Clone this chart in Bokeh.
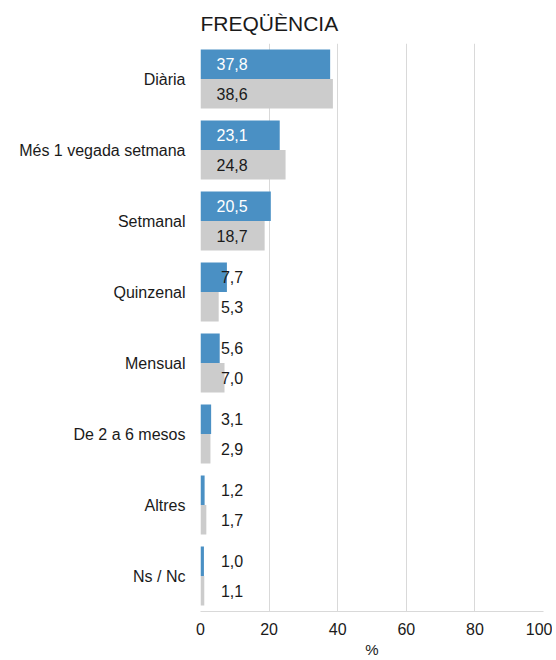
from bokeh.plotting import figure
from bokeh.models import ColumnDataSource, FactorRange, FixedTicker, Range1d
from bokeh.transform import dodge
from bokeh.embed import file_html
from bokeh.resources import INLINE
from bokeh.core.properties import value

categories = ["Diària", "Més 1 vegada setmana", "Setmanal", "Quinzenal",
              "Mensual", "De 2 a 6 mesos", "Altres", "Ns / Nc"]
series_a = [37.8, 23.1, 20.5, 7.7, 5.6, 3.1, 1.2, 1.0]
series_b = [38.6, 24.8, 18.7, 5.3, 7.0, 2.9, 1.7, 1.1]
x_ticks = [0, 20, 40, 60, 80, 100]
x_title = "%"

BLUE = "#4A90C4"
GREY = "#CCCCCC"
FONT = "Liberation Sans"
LABEL_X = 9.2

def fmt(v):
    return f"{v:.1f}".replace(".", ",")

src = ColumnDataSource(dict(
    cat=categories,
    a=series_a,
    b=series_b,
    a_lab=[fmt(v) for v in series_a],
    b_lab=[fmt(v) for v in series_b],
    a_col=["white" if v >= 20 else "#1a1a1a" for v in series_a],
    lx=[LABEL_X] * len(categories),
))

p = figure(width=552, height=660, output_backend="svg", toolbar_location=None,
           y_range=FactorRange(factors=list(reversed(categories))),
           x_range=Range1d(0, 100))
p.min_border_left = 200
p.min_border_right = 9
p.min_border_top = 43
p.min_border_bottom = 49
p.outline_line_color = None
p.background_fill_color = "white"

p.title.text = "FREQÜÈNCIA"
p.title.text_font = FONT
p.title.text_font_size = "21px"
p.title.text_font_style = "normal"
p.title.text_color = "#1a1a1a"
p.title.standoff = 18

p.hbar(y=dodge("cat", 0.2075, range=p.y_range), right="a", left=0, height=0.415,
       source=src, fill_color=BLUE, line_color=None)
p.hbar(y=dodge("cat", -0.2075, range=p.y_range), right="b", left=0, height=0.415,
       source=src, fill_color=GREY, line_color=None)

p.text(x="lx", y=dodge("cat", 0.2075, range=p.y_range), text="a_lab", source=src,
       text_align="center", text_baseline="middle", text_font=value(FONT),
       text_font_size="16px", text_color="a_col")
p.text(x="lx", y=dodge("cat", -0.2075, range=p.y_range), text="b_lab", source=src,
       text_align="center", text_baseline="middle", text_font=value(FONT),
       text_font_size="16px", text_color="#1a1a1a")

p.xgrid.grid_line_color = "#D9D9D9"
p.ygrid.grid_line_color = None
p.xaxis.ticker = FixedTicker(ticks=x_ticks)
p.xaxis.axis_line_color = "#D9D9D9"
p.xaxis.major_tick_line_color = None
p.xaxis.minor_tick_line_color = None
p.xaxis.major_label_text_font = FONT
p.xaxis.major_label_text_font_size = "16px"
p.xaxis.major_label_text_color = "#1a1a1a"
p.xaxis.major_label_standoff = 5
p.xaxis.axis_label = x_title
p.xaxis.axis_label_text_font = FONT
p.xaxis.axis_label_text_font_size = "15px"
p.xaxis.axis_label_text_font_style = "normal"
p.xaxis.axis_label_text_color = "#1a1a1a"
p.xaxis.axis_label_standoff = 3

p.yaxis.axis_line_color = None
p.yaxis.major_tick_line_color = None
p.yaxis.minor_tick_line_color = None
p.yaxis.major_label_text_font = FONT
p.yaxis.major_label_text_font_size = "16px"
p.yaxis.major_label_text_color = "#1a1a1a"
p.yaxis.major_label_standoff = 9

open("out.html", "w").write(file_html(p, INLINE))
